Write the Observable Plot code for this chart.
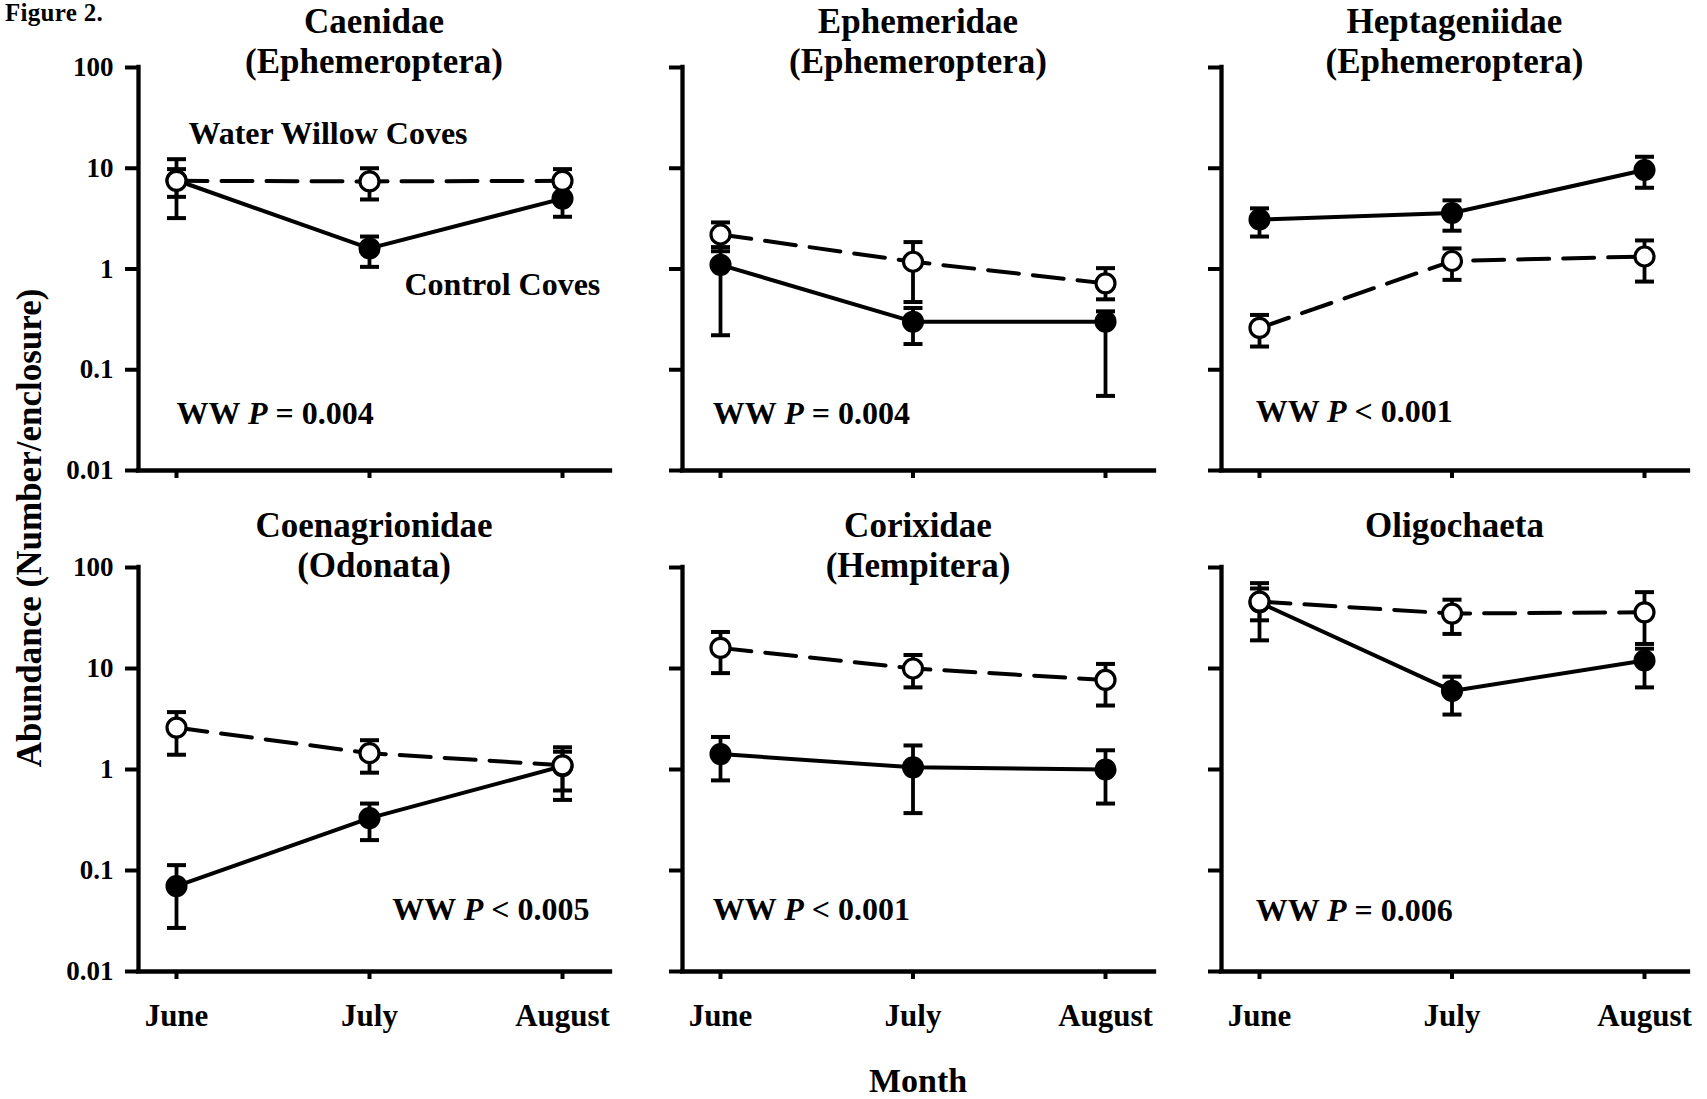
<!DOCTYPE html>
<html><head><meta charset="utf-8">
<script src="https://cdn.jsdelivr.net/npm/d3@7"></script>
<script src="https://cdn.jsdelivr.net/npm/@observablehq/plot@0.6"></script>
<style>
body{margin:0;background:#fff;}
#fig{position:relative;width:1707px;height:1099px;font-family:"Liberation Serif","Times New Roman",serif;font-weight:bold;color:#000;overflow:hidden;}
.lab{position:absolute;white-space:nowrap;}
</style></head><body><div id="fig"></div>
<script>
// ---------- data ----------
const months = ["June", "July", "August"];
const taxa = ["Caenidae", "Ephemeridae", "Heptageniidae", "Coenagrionidae", "Corixidae", "Oligochaeta"];
const orders = ["(Ephemeroptera)", "(Ephemeroptera)", "(Ephemeroptera)", "(Odonata)", "(Hempitera)", ""];
const yTicks = [0.01, 0.1, 1, 10, 100];
const yTickLabels = ["0.01", "0.1", "1", "10", "100"];
const seriesNames = ["Water Willow Coves", "Control Coves"];
const pLabels = ["WW P = 0.004", "WW P = 0.004", "WW P < 0.001", "WW P < 0.005", "WW P < 0.001", "WW P = 0.006"];

// Water willow coves (open circles, dashed)
const wwMean = [[7.5, 7.4, 7.5], [2.2, 1.18, 0.72], [0.26, 1.2, 1.33], [2.6, 1.45, 1.1], [16, 10, 7.7], [46, 35, 36]];
const wwLow  = [[5.2, 4.9, 5.3], [1.5, 0.47, 0.5], [0.17, 0.78, 0.75], [1.4, 0.93, 0.62], [9, 6.5, 4.3], [30, 22, 17.5]];
const wwHigh = [[9.8, 10.0, 9.8], [2.9, 1.85, 1.02], [0.35, 1.6, 1.92], [3.7, 1.95, 1.5], [23, 13.6, 11.1], [62, 48, 57]];
// Control coves (filled circles, solid)
const ctlMean = [[7.6, 1.6, 5.0], [1.1, 0.3, 0.3], [3.1, 3.6, 9.6], [0.07, 0.33, 1.08], [1.42, 1.05, 1.0], [45, 6, 12]];
const ctlLow  = [[3.2, 1.05, 3.3], [0.22, 0.18, 0.055], [2.1, 2.4, 6.4], [0.027, 0.2, 0.5], [0.78, 0.37, 0.46], [19, 3.5, 6.5]];
const ctlHigh = [[12.3, 2.1, 6.7], [1.65, 0.41, 0.38], [4.0, 4.8, 13.0], [0.113, 0.46, 1.66], [2.1, 1.73, 1.55], [70, 8.3, 15.7]];

// ---------- layout (pixels / annotation anchors) ----------
const L = {
  axisLeft: [138, 682, 1221], axisRight: [610, 1154, 1688],
  juneX: [176, 720, 1259], augX: [562, 1105, 1644],
  top100: [67, 567], bottom001: [470, 971]
};
const pPos = [[0, 0.037, "start"], [-0.04, 0.037, "start"], [-0.02, 0.038, "start"],
              [2.14, 0.041, "end"], [-0.04, 0.041, "start"], [-0.02, 0.040, "start"]];
const mL = 100, mR = 30, mT = 20, mB = 80;
const cap = {draw(ctx, size) { const w = Math.sqrt(size / Math.PI); ctx.moveTo(-w, 0); ctx.lineTo(w, 0); }};
const fig = document.getElementById("fig");
const FONT = "'Liberation Serif','Times New Roman',serif";

function addLabel(text, css) {
  const d = document.createElement("div");
  d.className = "lab";
  d.textContent = text;
  Object.assign(d.style, css);
  fig.appendChild(d);
  return d;
}

taxa.forEach((taxon, k) => {
  const r = Math.floor(k / 3), c = k % 3;
  const step = (L.augX[c] - L.juneX[c]) / 2;
  const xmin = -(L.juneX[c] - L.axisLeft[c]) / step;
  const xmax = 2 + (L.axisRight[c] - L.augX[c]) / step;
  const width = L.axisRight[c] - L.axisLeft[c] + mL + mR;
  const height = L.bottom001[r] - L.top100[r] + mT + mB;
  const ww = months.map((m, i) => ({x: i, mean: wwMean[k][i], low: wwLow[k][i], high: wwHigh[k][i]}));
  const ctl = months.map((m, i) => ({x: i, mean: ctlMean[k][i], low: ctlLow[k][i], high: ctlHigh[k][i]}));
  const both = ctl.concat(ww);
  const marks = [
    Plot.ruleX([xmin], {y1: 0.01, y2: 100, stroke: "black", strokeWidth: 4.3, strokeLinecap: "square"}),
    Plot.ruleY([0.01], {x1: xmin, x2: xmax, stroke: "black", strokeWidth: 4.3, strokeLinecap: "square"}),
    Plot.axisY(yTicks, {anchor: "left", tickSize: 13, tickPadding: 12, strokeWidth: 4, fontSize: 27, fontWeight: "bold",
      fill: "black", label: null, tickFormat: c === 0 ? (d => yTickLabels[yTicks.indexOf(d)]) : (() => "")}),
    Plot.axisX([0, 1, 2], {anchor: "bottom", tickSize: 8, tickPadding: 24, strokeWidth: 4, fontSize: 31, fontWeight: "bold",
      fill: "black", label: null, tickFormat: r === 1 ? (i => months[i]) : (() => "")}),
    Plot.ruleX(both, {x: "x", y1: "low", y2: "high", stroke: "black", strokeWidth: 3.8}),
    Plot.dot(both, {x: "x", y: "low", symbol: cap, r: 9.5, stroke: "black", fill: "none", strokeWidth: 4}),
    Plot.dot(both, {x: "x", y: "high", symbol: cap, r: 9.5, stroke: "black", fill: "none", strokeWidth: 4}),
    Plot.line(ctl, {x: "x", y: "mean", stroke: "black", strokeWidth: 4}),
    Plot.dot(ctl, {x: "x", y: "mean", r: 9.8, fill: "black", stroke: "black", strokeWidth: 2.5}),
    Plot.line(ww, {x: "x", y: "mean", stroke: "black", strokeWidth: 4, strokeDasharray: "31,14"}),
    Plot.dot(ww, {x: "x", y: "mean", r: 9.5, fill: "white", stroke: "black", strokeWidth: 3.2}),
    Plot.text([pLabels[k]], {x: pPos[k][0], y: pPos[k][1], text: d => d, textAnchor: pPos[k][2],
      fontSize: 32, fontWeight: "bold", fill: "black"})
  ];
  if (k === 0) {
    marks.push(Plot.text([seriesNames[0]], {x: 0.062, y: 22.2, text: d => d, textAnchor: "start", fontSize: 32, fontWeight: "bold", fill: "black"}));
    marks.push(Plot.text([seriesNames[1]], {x: 2.196, y: 0.695, text: d => d, textAnchor: "end", fontSize: 32, fontWeight: "bold", fill: "black"}));
  }
  const svg = Plot.plot({
    width, height, marginLeft: mL, marginRight: mR, marginTop: mT, marginBottom: mB,
    x: {type: "linear", domain: [xmin, xmax]},
    y: {type: "log", domain: [0.01, 100]},
    style: {background: "none", overflow: "visible", fontFamily: FONT, fontWeight: "bold", color: "black"},
    marks
  });
  svg.style.position = "absolute";
  svg.style.left = (L.axisLeft[c] - mL) + "px";
  svg.style.top = (L.top100[r] - mT) + "px";
  svg.style.maxWidth = "none";
  // italic P in significance labels
  svg.querySelectorAll("text").forEach(t => {
    const s = t.textContent;
    if (s.startsWith("WW P")) {
      t.textContent = "";
      t.setAttribute("style", "white-space:pre");
      const parts = [["WW ", "normal"], ["P", "italic"], [s.slice(4), "normal"]];
      parts.forEach(([txt, st]) => {
        const ts = document.createElementNS("http://www.w3.org/2000/svg", "tspan");
        ts.textContent = txt; ts.setAttribute("font-style", st);
        t.appendChild(ts);
      });
    }
  });
  fig.appendChild(svg);

  // panel title
  const cx = (L.axisLeft[c] + L.axisRight[c]) / 2;
  const titleTop = r === 0 ? 2 : 506;
  const tdiv = addLabel("", {left: (cx - 250) + "px", width: "500px", top: titleTop + "px",
    textAlign: "center", fontSize: "35px", lineHeight: "40px", whiteSpace: "normal"});
  tdiv.innerHTML = taxon + (orders[k] ? "<br>" + orders[k] : "");
});

addLabel("Figure 2.", {left: "5px", top: "0px", fontSize: "25px", lineHeight: "26px", letterSpacing: "0.3px"});
addLabel("Month", {left: "718px", width: "400px", textAlign: "center", top: "1061px", fontSize: "34px", lineHeight: "40px"});
addLabel("Abundance (Number/enclosure)", {left: (30 - 300) + "px", width: "600px", textAlign: "center",
  top: (528 - 20) + "px", fontSize: "35px", lineHeight: "40px", transform: "rotate(-90deg)"});
</script></body></html>
